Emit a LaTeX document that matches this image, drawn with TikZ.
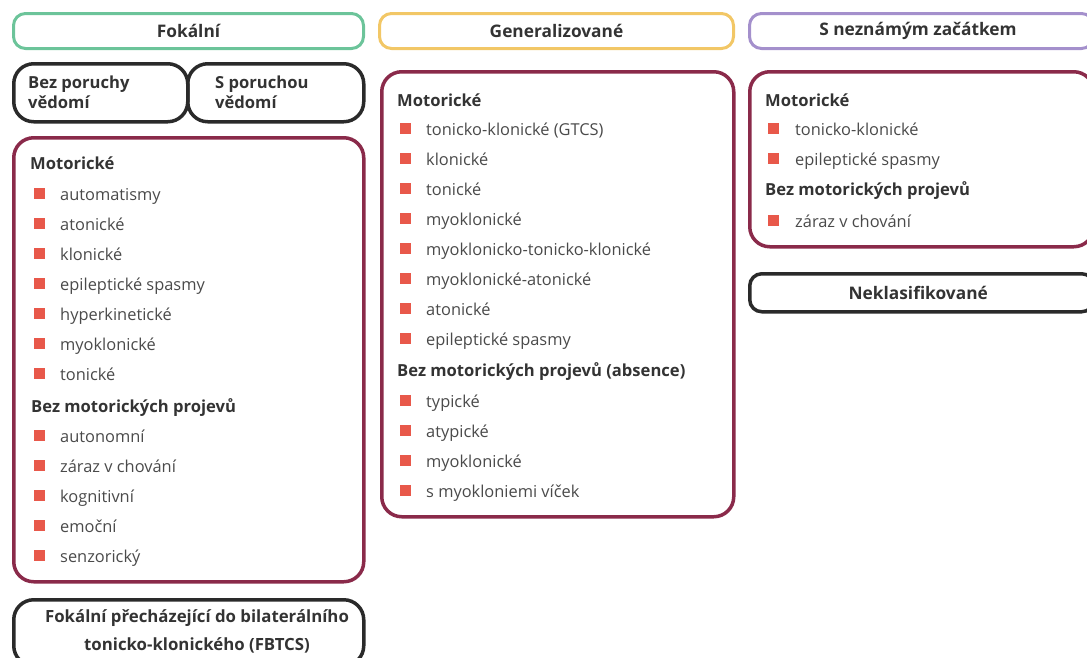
\documentclass[tikz,border=0pt]{standalone}
\usepackage{fontspec}
\setmainfont{Open Sans}
\definecolor{txt}{HTML}{333333}
\definecolor{itm}{HTML}{4A4A4A}
\definecolor{grn}{HTML}{6CC49A}
\definecolor{ylw}{HTML}{F2C766}
\definecolor{prp}{HTML}{A490CC}
\definecolor{grpred}{HTML}{8A2A4A}
\definecolor{blk}{HTML}{2A2A2A}
\definecolor{bulred}{HTML}{E8584A}
\begin{document}
\begin{tikzpicture}[x=1pt,y=-1pt,
  hdr/.style={draw, line width=3pt, rounded corners=12pt, minimum height=35pt, inner sep=0pt, anchor=north west, font=\bfseries\fontsize{17.3}{20}\selectfont, text=txt},
  grp/.style={draw=grpred, line width=3.5pt, rounded corners=20pt, inner sep=0pt, anchor=north west},
  blkbox/.style={draw=blk, line width=3.5pt, rounded corners=20pt, inner sep=0pt, anchor=north west},
  item/.style={anchor=base west, inner sep=0pt, font=\fontsize{16.4}{19}\selectfont, text=itm},
  subh/.style={anchor=base west, inner sep=0pt, font=\bfseries\fontsize{16.6}{19}\selectfont, text=txt},
  bul/.style={fill=bulred, minimum size=11pt, inner sep=0pt},
  lbl/.style={anchor=base west, inner sep=0pt, align=left, font=\bfseries\fontsize{16.6}{20}\selectfont, text=txt},
  clbl/.style={anchor=base, inner sep=0pt, align=center, font=\bfseries\fontsize{16.8}{28}\selectfont, text=txt}
]
\useasboundingbox (0,0) rectangle (1087,657);
% headers
\node[hdr, draw=grn, minimum width=350pt] (h1) at (12,12) {Fokální};
\node[hdr, draw=ylw, minimum width=354pt] (h2) at (378,12) {Generalizované};
\node[hdr, draw=prp, minimum width=344pt] (h3) at (748,12) {\hspace*{-7pt}S neznámým začátkem};
% focal awareness boxes
\node[blkbox, minimum width=174pt, minimum height=58pt] (bez) at (12,62) {};
\node[blkbox, minimum width=176pt, minimum height=58pt] (spor) at (186,62) {};
\node[lbl] (bezt) at (28,108) {Bez poruchy\\vědomí};
\node[lbl] (sport) at (215,108) {S poruchou\\vědomí};
% focal group
\node[grp, minimum width=350pt, minimum height=444pt] (g1) at (12,136) {};
\node[subh] (g1m) at (30,169) {Motorické};
\foreach \t [count=\i] in {automatismy,atonické,klonické,epileptické spasmy,hyperkinetické,myoklonické,tonické}{
  \node[bul] (g1b\i) at (39,163+30*\i) {};
  \node[item] (g1t\i) at (60,170+30*\i) {\t};
}
\node[subh] (g1n) at (31,412) {Bez motorických projevů};
\foreach \t [count=\i] in {autonomní,záraz v chování,kognitivní,emoční,senzorický}{
  \node[bul] (g1c\i) at (39,405+30*\i) {};
  \node[item] (g1u\i) at (60,412+30*\i) {\t};
}
% FBTCS
\node[blkbox, minimum width=350pt, minimum height=66pt] (fb) at (12,598) {};
\node[clbl] (fbt) at (197,650) {Fokální přecházející do bilaterálního\\tonicko-klonického (FBTCS)};
% generalized group
\node[grp, minimum width=352pt, minimum height=445pt] (g2) at (380,70) {};
\node[subh] (g2m) at (397,106) {Motorické};
\foreach \t [count=\i] in {tonicko-klonické (GTCS),klonické,tonické,myoklonické,myoklonicko-tonicko-klonické,myoklonické-atonické,atonické,epileptické spasmy}{
  \node[bul] (g2b\i) at (405,98+30*\i) {};
  \node[item] (g2t\i) at (426,105+30*\i) {\t};
}
\node[subh] (g2n) at (397,376) {Bez motorických projevů (absence)};
\foreach \t [count=\i] in {typické,atypické,myoklonické,s myokloniemi víček}{
  \node[bul] (g2c\i) at (405,370+30*\i) {};
  \node[item] (g2u\i) at (426,377+30*\i) {\t};
}
% unknown onset group
\node[grp, minimum width=344pt, minimum height=175pt] (g3) at (748,70) {};
\node[subh] (g3m) at (765,106) {Motorické};
\foreach \t [count=\i] in {tonicko-klonické,epileptické spasmy}{
  \node[bul] (g3b\i) at (773,98+30*\i) {};
  \node[item] (g3t\i) at (795,105+30*\i) {\t};
}
\node[subh] (g3n) at (765,195) {Bez motorických projevů};
\node[bul] (g3c1) at (773,220) {};
\node[item] (g3u1) at (795,227) {záraz v chování};
% unclassified
\node[hdr, draw=blk, line width=3.5pt, minimum width=344pt, minimum height=38pt] (nek) at (748,272) {\hspace*{-7pt}Neklasifikované};
\end{tikzpicture}
\end{document}
